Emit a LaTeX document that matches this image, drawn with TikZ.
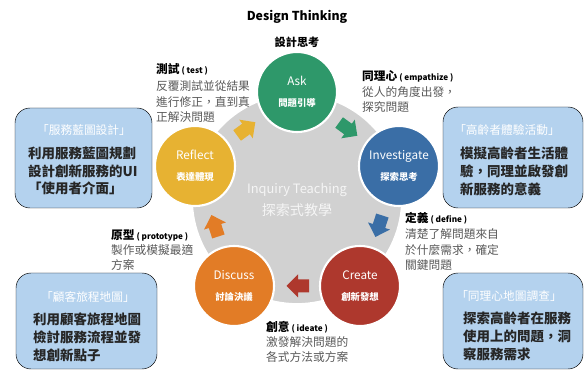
\documentclass[tikz,border=0pt]{standalone}
\usepackage{fontspec}
\newfontfamily\cjk{Noto Sans CJK TC}
\definecolor{askgreen}{RGB}{46,152,106}
\definecolor{invblue}{RGB}{58,110,166}
\definecolor{crered}{RGB}{174,56,45}
\definecolor{disorange}{RGB}{226,124,38}
\definecolor{refyellow}{RGB}{231,178,50}
\definecolor{cardblue}{RGB}{180,210,238}
\newcommand\stagetext[2]{{\fontsize{10}{12}\selectfont #1}\\[6pt]{\fontsize{8}{9}\selectfont\bfseries #2}}
\newcommand\notehead[2]{{\color{black}\fontsize{10}{13}\selectfont\bfseries #1}{\color{black}\fontsize{7}{9}\selectfont\bfseries\ ( #2 )}}

\begin{document}
\begin{tikzpicture}[x=0.03cm,y=0.03cm,
  every node/.style={font=\cjk},
  stage/.style={circle,draw=white,line width=1.8pt,minimum size=2.4cm,inner sep=0pt,text=white,align=center},
  turn/.pic={\fill (-11,-6.5) -- (0,-6.5) -- (0,-11.5) -- (11.5,0) -- (0,11.5) -- (0,6.5) -- (-11,6.5) -- cycle;},
  card/.style={fill=cardblue,rounded corners=0.45cm},
  cardtitle/.style={text=white,font=\cjk\fontsize{10}{12}\selectfont},
  cardbody/.style={anchor=north west,align=left,inner sep=0pt,text=black!85,font=\cjk\fontsize{11.5}{15}\selectfont\bfseries},
  note/.style={anchor=north west,align=left,inner sep=0pt,text=black!65,font=\cjk\fontsize{10}{13}\selectfont}]
\useasboundingbox (0,0) rectangle (584,371);
%================================================================
%	Title
\node[font=\cjk\fontsize{10.5}{12}\selectfont\bfseries] (title) at (297,354) {Design Thinking};
\node[font=\cjk\fontsize{9.5}{11}\selectfont\bfseries] (subtitle) at (297,329) {設計思考};

%================================================================
%	Ring
\draw[fill=black!18, draw=white, line width=1.5pt] (297,172) circle (105);
\node[text=white!96!black, align=center, font=\cjk\fontsize{11}{13}\selectfont] (inquiry) at (297,171)
  {Inquiry Teaching\\[6pt]{\fontsize{12}{14}\selectfont 探索式教學}};
%----------------------------------------------------------------
\node[stage, fill=askgreen] (ask) at (297,279) {\stagetext{Ask}{問題引導}};
\node[stage, fill=invblue] (investigate) at (399,205) {\stagetext{Investigate}{探索思考}};
\node[stage, fill=crered] (create) at (360,85) {\stagetext{Create}{創新發想}};
\node[stage, fill=disorange] (discuss) at (234,85) {\stagetext{Discuss}{討論決議}};
\node[stage, fill=refyellow] (reflect) at (195,205) {\stagetext{Reflect}{表達體現}};
%----------------------------------------------------------------
\pic[fill=askgreen, rotate=-36] at (348,242) {turn};
\pic[fill=invblue, rotate=-108] at (379,145) {turn};
\pic[fill=crered, rotate=180] at (298,85) {turn};
\pic[fill=disorange, rotate=108] at (215,145) {turn};
\pic[fill=refyellow, rotate=36] at (246,242) {turn};

%================================================================
%	Notes
\node[note] (test) at (156,308) {\notehead{測試}{test}\\[2pt]反覆測試並從結果\\進行修正，直到真\\正解決問題};
\node[note] (empathize) at (362,301) {\notehead{同理心}{empathize}\\[1pt]從人的角度出發，\\探究問題};
\node[note] (define) at (405,159) {\notehead{定義}{define}\\[1pt]清楚了解問題來自\\於什麼需求，確定\\關鍵問題};
\node[note] (ideate) at (266,50) {\notehead{創意}{ideate}\\[0pt]激發解決問題的\\各式方法或方案};
\node[note] (prototype) at (111,142) {\notehead{原型}{prototype}\\[0pt]製作或模擬最適\\方案};

%================================================================
%	Cards
\draw[card] (15,163) rectangle (152,263);
\node[cardtitle] (blueprint) at (84,241) {「服務藍圖設計」};
\node[cardbody] (blueprintbody) at (28,224) {利用服務藍圖規劃\\設計創新服務的UI\\「使用者介面」};
%----------------------------------------------------------------
\draw[card] (16,2) rectangle (157,98);
\node[cardtitle] (journey) at (88,74) {「顧客旅程地圖」};
\node[cardbody] (journeybody) at (33,58) {利用顧客旅程地圖\\檢討服務流程並發\\想創新點子};
%----------------------------------------------------------------
\draw[card] (443,163) rectangle (583,264);
\node[cardtitle] (elder) at (507,241) {「高齡者體驗活動」};
\node[cardbody] (elderbody) at (460,224) {模擬高齡者生活體\\驗，同理並啟發創\\新服務的意義};
%----------------------------------------------------------------
\draw[card] (443,2) rectangle (583,98);
\node[cardtitle] (empathymap) at (509,75) {「同理心地圖調查」};
\node[cardbody] (empathymapbody) at (463,59) {探索高齡者在服務\\使用上的問題，洞\\察服務需求};
%================================================================
\end{tikzpicture}
\end{document}
